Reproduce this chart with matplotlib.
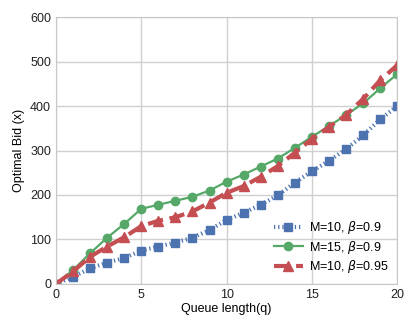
import numpy as np
import matplotlib
matplotlib.use("Agg")
import matplotlib.pyplot as plt

q = list(range(21))
bid_m10_b09 = [0, 16, 35, 48, 58, 75, 84, 93, 104, 121, 144, 160, 178, 199, 228, 253, 277, 303, 334, 370, 400]
bid_m15_b09 = [0, 31, 69, 104, 135, 169, 178, 187, 196, 210, 230, 246, 264, 282, 306, 331, 355, 380, 406, 440, 472]
bid_m10_b095 = [0, 28, 61, 84, 105, 130, 142, 150, 163, 183, 205, 220, 241, 265, 295, 326, 353, 380, 416, 458, 492]

plt.rcParams['font.family'] = ['Liberation Sans', 'DejaVu Sans']
plt.rcParams['font.size'] = 9

fig, ax = plt.subplots(figsize=(4.15, 3.32), dpi=100)
ax.plot(q, bid_m10_b09, color='#4C72B0', lw=3, dashes=(0.3, 0.7), marker='s', ms=6,
        label=r'M=10, $\beta$=0.9')
ax.plot(q, bid_m15_b09, '-', color='#55A868', lw=1.6, marker='o', ms=6,
        label=r'M=15, $\beta$=0.9')
ax.plot(q, bid_m10_b095, '--', color='#C44E52', lw=3, marker='^', ms=6.5,
        label=r'M=10, $\beta$=0.95')

ax.set_xlim(0, 20)
ax.set_ylim(0, 600)
ax.set_xticks([0, 5, 10, 15, 20])
ax.set_yticks([0, 100, 200, 300, 400, 500, 600])
ax.grid(True, color='#d0d0d0', lw=1)
ax.set_axisbelow(True)
for s in ax.spines.values():
    s.set_color('#c8c8c8')
ax.tick_params(length=0, colors='#222222', labelsize=9)
ax.set_xlabel('Queue length(q)', fontsize=9, labelpad=2)
ax.set_ylabel('Optimal Bid (x)', fontsize=9)
ax.legend(loc='lower right', frameon=False, fontsize=9, handlelength=2.3,
          borderaxespad=0.3, labelspacing=0.2, handletextpad=0.5)

fig.subplots_adjust(left=0.135, right=0.957, top=0.948, bottom=0.145)
fig.savefig('out.png', dpi=100)
